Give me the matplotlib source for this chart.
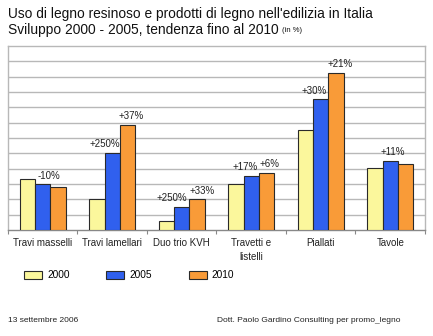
import matplotlib
matplotlib.use("Agg")
import matplotlib.pyplot as plt
import numpy as np

plt.rcParams['font.family'] = ['Liberation Sans', 'DejaVu Sans']

categories = ["Travi masselli", "Travi lamellari", "Duo trio KVH", "Travetti e\nlistelli", "Piallati", "Tavole"]
years = ["2000", "2005", "2010"]
v2000 = [3.33, 2.0, 0.57, 3.0, 6.55, 4.05]
v2005 = [3.0, 5.03, 1.53, 3.54, 8.52, 4.52]
v2010 = [2.82, 6.87, 2.0, 3.72, 10.27, 4.33]
labels2005 = ["-10%", "+250%", "+250%", "+17%", "+30%", "+11%"]
labels2010 = ["", "+37%", "+33%", "+6%", "+21%", ""]
colors = ["#FBF79C", "#3060EE", "#F99B38"]

W, H = 433, 336
fig = plt.figure(figsize=(W/100, H/100), dpi=100)
ax = fig.add_axes([8/W, 1-230/H, (425-8)/W, (230-46)/H])

x = np.arange(len(categories)) + 0.5
bw = 0.22
series = [v2000, v2005, v2010]
bars = []
for i, (vals, c, y) in enumerate(zip(series, colors, years)):
    b = ax.bar(x + (i-1)*bw, vals, bw, color=c, edgecolor="#2a2a2a", linewidth=0.8, label=y, zorder=3)
    bars.append(b)

# data labels (offsets in points)
off2005 = [6, -7, -10, -6, -7, 3]
off2010 = [0, 4, 5, 3, 4, 0]
for i in range(len(categories)):
    if labels2005[i]:
        ax.annotate(labels2005[i], (x[i], v2005[i]), xytext=(off2005[i]*0.72, 2.5),
                    textcoords="offset points", ha="center", va="bottom", fontsize=7, color="#222222", zorder=4)
    if labels2010[i]:
        ax.annotate(labels2010[i], (x[i] + bw, v2010[i]), xytext=(off2010[i]*0.72, 2.5),
                    textcoords="offset points", ha="center", va="bottom", fontsize=7, color="#222222", zorder=4)

ax.set_xlim(0, len(categories))
ax.set_ylim(0, 12)
ax.set_yticks(np.arange(1, 12))
ax.yaxis.grid(True, color="#b8b8b8", linewidth=1.0, zorder=0)
ax.tick_params(axis="y", left=False, labelleft=False)
ax.set_xticks(np.arange(0, len(categories)+1))
ax.set_xticklabels([])
ax.set_xticks(x, minor=True)
ax.set_xticklabels(categories, minor=True, fontsize=7, color="#222222", linespacing=1.4)
ax.tick_params(axis="x", which="major", length=3, color="#888888", direction="out")
ax.tick_params(axis="x", which="minor", length=0, pad=6)
for s in ["top", "right", "left"]:
    ax.spines[s].set_color("#b8b8b8")
    ax.spines[s].set_linewidth(1.0)
ax.spines["bottom"].set_color("#888888")
ax.spines["bottom"].set_linewidth(1.0)

# title
fig.text(8/W, 1-14/H, "Uso di legno resinoso e prodotti di legno nell'edilizia in Italia",
         fontsize=9.9, ha="left", va="center", color="#111111")
t = fig.text(8/W, 1-30/H, "Sviluppo 2000 - 2005, tendenza fino al 2010 ",
             fontsize=9.9, ha="left", va="center", color="#111111")
fig.canvas.draw()
bb = t.get_window_extent()
fig.text(bb.x1/W, 1-31/H, "(in %)", fontsize=5.5, ha="left", va="center", color="#111111")

# legend
leg = ax.legend(handles=bars, labels=years, loc="upper left", bbox_to_anchor=(7/417, -0.17),
                ncol=3, frameon=False, fontsize=7.3, handlelength=1.75, handleheight=0.9,
                columnspacing=3.65, handletextpad=0.5)
for p in leg.get_patches():
    p.set_linewidth(0.8)

# footer
fig.text(8/W, 1-321/H, "13 settembre 2006", fontsize=6, ha="left", va="center", color="#222222")
fig.text(217/W, 1-321/H, "Dott. Paolo Gardino Consulting per promo_legno", fontsize=6, ha="left", va="center", color="#222222")

fig.savefig("out.png", dpi=100)
